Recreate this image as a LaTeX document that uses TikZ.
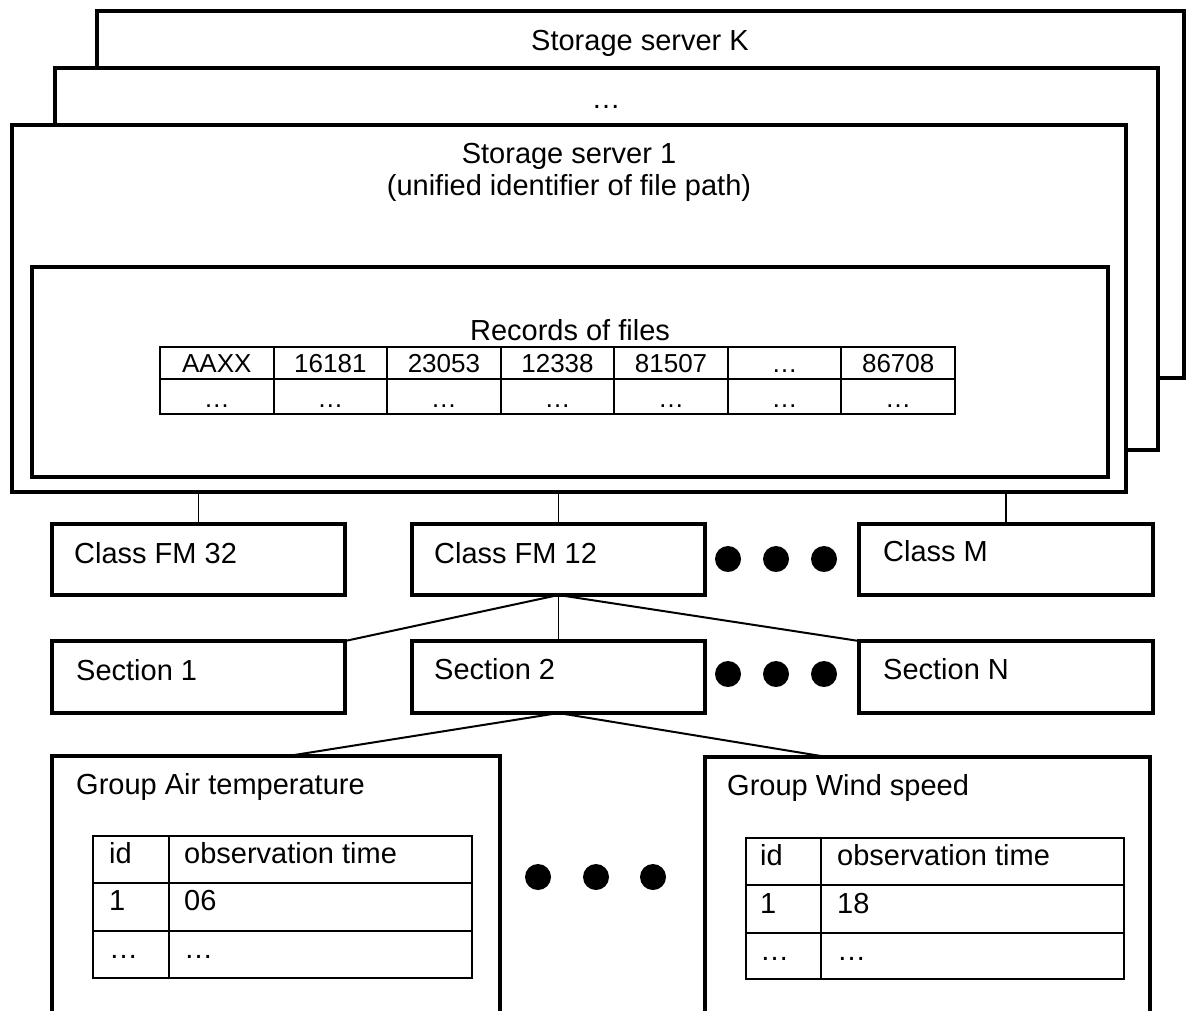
\documentclass[tikz,border=0pt]{standalone}
\usepackage{fontspec}
\setmainfont{Liberation Sans}
\begin{document}
\begin{tikzpicture}[x=1pt,y=-1pt,
  box/.style={draw, fill=white, inner sep=0pt, outer sep=0pt, line width=4.5pt},
  inbox/.style={draw, inner sep=0pt, outer sep=0pt, line width=3.5pt},
  gridline/.style={line width=2pt},
  conn/.style={line width=1.6pt},
  slant/.style={line width=2pt},
  lbl/.style={inner sep=0pt, font=\fontsize{29}{34}\selectfont},
  cell/.style={inner sep=0pt, font=\fontsize{26}{30}\selectfont},
  dot/.style={circle, fill=black, inner sep=0pt, minimum size=26pt}]
\useasboundingbox (0,0) rectangle (1188,1010);
\clip (0,0) rectangle (1188,1010);

% storage servers
\node[box, minimum width=1087pt, minimum height=367pt] (sK) at (640.5,194.5) {};
\node[lbl, anchor=base] (tK) at (640,50) {Storage server K};
\node[box, minimum width=1103pt, minimum height=382pt] (sD) at (606.5,259) {};
\node[lbl, anchor=base] (tD) at (606,108) {…};
\node[box, minimum width=1114pt, minimum height=367pt] (s1) at (569,308.5) {};
\node[lbl, anchor=base] (t1a) at (569,163) {Storage server 1};
\node[lbl, anchor=base] (t1b) at (569,195) {(unified identifier of file path)};

% records of files
\node[inbox, minimum width=1076pt, minimum height=210pt] (rec) at (570,372) {};
\node[lbl, anchor=base] (trec) at (570,340) {Records of files};
\node[draw, gridline, inner sep=0pt, outer sep=0pt, minimum width=795pt, minimum height=67pt] (rtab) at (557.5,380.5) {};
\draw[gridline] (rtab.west |- 0,379) -- (rtab.east |- 0,379);
\foreach \i in {1,...,6} \draw[gridline] ({160+113.57*\i},347) -- ({160+113.57*\i},414);
\foreach \t [count=\i] in {AAXX,16181,23053,12338,81507,…,86708}
  \node[cell, anchor=base] (ra\i) at ({160+113.57*(\i-0.5)},372) {\t};
\foreach \i in {1,...,7}
  \node[cell, anchor=base] (rb\i) at ({160+113.57*(\i-0.5)},407) {…};

% classes
\node[box, minimum width=293pt, minimum height=71pt] (fm32) at (198.5,559.5) {};
\node[lbl, anchor=base west] (tfm32) at (74,563) {Class FM 32};
\node[box, minimum width=293pt, minimum height=71pt] (fm12) at (558.5,559.5) {};
\node[lbl, anchor=base west] (tfm12) at (434,563) {Class FM 12};
\node[box, minimum width=294pt, minimum height=71pt] (cM) at (1006,559.5) {};
\node[lbl, anchor=base west] (tcM) at (883,561) {Class M};
\node[dot] (d1) at (728,559) {};
\node[dot] (d2) at (776,559) {};
\node[dot] (d3) at (824,559) {};

\draw[conn] (fm32.north) -- (fm32.north |- s1.south);
\draw[conn] (fm12.north) -- (fm12.north |- s1.south);
\draw[conn] (cM.north) -- (cM.north |- s1.south);

% sections
\node[box, minimum width=293pt, minimum height=72pt] (sec1) at (198.5,677) {};
\node[lbl, anchor=base west] (tsec1) at (76,680) {Section 1};
\node[box, minimum width=293pt, minimum height=72pt] (sec2) at (558.5,677) {};
\node[lbl, anchor=base west] (tsec2) at (434,679) {Section 2};
\node[box, minimum width=294pt, minimum height=72pt] (secN) at (1006,677) {};
\node[lbl, anchor=base west] (tsecN) at (883,679) {Section N};
\node[dot] (d4) at (728,674) {};
\node[dot] (d5) at (776,674) {};
\node[dot] (d6) at (824,674) {};

\draw[slant] (fm12.south) -- (sec1.north east);
\draw[conn] (fm12.south) -- (sec2.north);
\draw[slant] (fm12.south) -- (secN.north west);

% groups
\node[box, minimum width=448pt, minimum height=284pt] (air) at (276,898) {};
\node[lbl, anchor=base west] (tair) at (76,794) {Group Air temperature};
\node[box, minimum width=445pt, minimum height=283pt] (wind) at (927.5,898.5) {};
\node[lbl, anchor=base west] (twind) at (727,795) {Group Wind speed};
\coordinate (airin) at (288,756);
\coordinate (windin) at (827,757);
\draw[slant] (sec2.south) -- (airin);
\draw[slant] (sec2.south) -- (windin);

\node[dot] (d7) at (538,877) {};
\node[dot] (d8) at (596,877) {};
\node[dot] (d9) at (653,877) {};

% air table
\node[draw, gridline, inner sep=0pt, outer sep=0pt, minimum width=379pt, minimum height=142pt] (atab) at (282.5,907) {};
\draw[gridline] (93,883) -- (472,883);
\draw[gridline] (93,931) -- (472,931);
\draw[gridline] (169,836) -- (169,978);
\node[lbl, anchor=base west] (a11) at (109,863) {id};
\node[lbl, anchor=base west] (a12) at (184,863) {observation time};
\node[lbl, anchor=base west] (a21) at (109,910) {1};
\node[lbl, anchor=base west] (a22) at (184,910) {06};
\node[lbl, anchor=base west] (a31) at (109,958) {…};
\node[lbl, anchor=base west] (a32) at (184,958) {…};

% wind table
\node[draw, gridline, inner sep=0pt, outer sep=0pt, minimum width=378pt, minimum height=141pt] (wtab) at (935,908.5) {};
\draw[gridline] (746,885) -- (1124,885);
\draw[gridline] (746,933) -- (1124,933);
\draw[gridline] (821,838) -- (821,979);
\node[lbl, anchor=base west] (w11) at (760,865) {id};
\node[lbl, anchor=base west] (w12) at (837,865) {observation time};
\node[lbl, anchor=base west] (w21) at (760,913) {1};
\node[lbl, anchor=base west] (w22) at (837,913) {18};
\node[lbl, anchor=base west] (w31) at (760,960) {…};
\node[lbl, anchor=base west] (w32) at (837,960) {…};
\end{tikzpicture}
\end{document}
